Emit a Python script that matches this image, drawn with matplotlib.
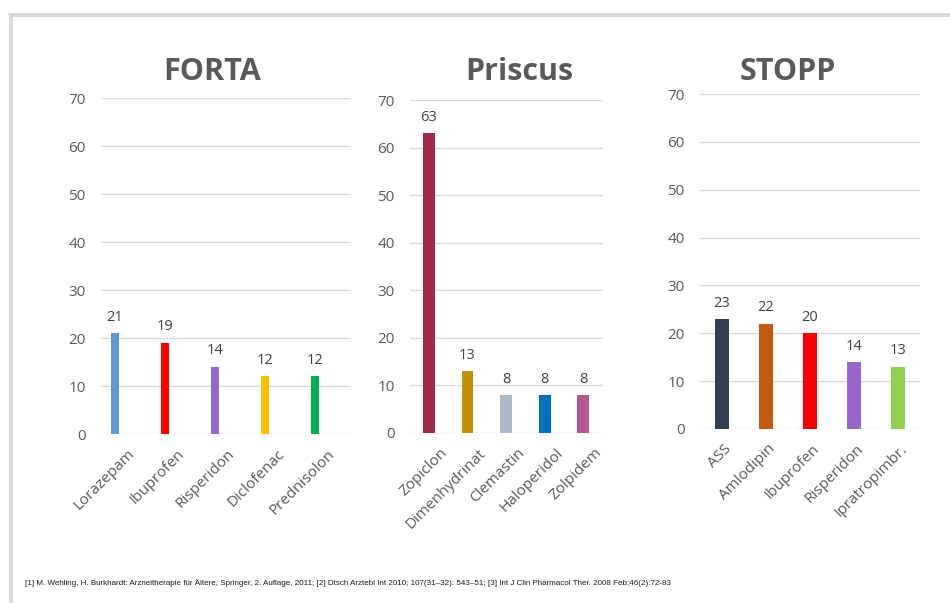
import matplotlib
matplotlib.use("Agg")
import matplotlib.pyplot as plt
import matplotlib.transforms as mtransforms
from matplotlib.patches import Rectangle
from matplotlib.lines import Line2D

plt.rcParams['font.family'] = ['Open Sans', 'DejaVu Sans']

# FORTA
forta_drugs = ['Lorazepam', 'Ibuprofen', 'Risperidon', 'Diclofenac', 'Prednisolon']
forta_vals = [21, 19, 14, 12, 12]
forta_colors = ['#5B9BD5', '#FF0000', '#9966CC', '#FFC000', '#00B050']

# Priscus
priscus_drugs = ['Zopiclon', 'Dimenhydrinat', 'Clemastin', 'Haloperidol', 'Zolpidem']
priscus_vals = [63, 13, 8, 8, 8]
priscus_colors = ['#A0294A', '#BF9000', '#ADB9CA', '#0070C0', '#B5598A']

# STOPP
stopp_drugs = ['ASS', 'Amlodipin', 'Ibuprofen', 'Risperidon', 'Ipratropimbr.']
stopp_vals = [23, 22, 20, 14, 13]
stopp_colors = ['#333F50', '#C55A11', '#FF0000', '#9966CC', '#92D050']

footnote = ('[1] M. Wehling, H. Burkhardt: Arzneitherapie für Ältere, Springer, 2. Auflage, 2011; '
            '[2] Dtsch Arztebl Int 2010; 107(31–32): 543–51; '
            '[3] Int J Clin Pharmacol Ther. 2008 Feb;46(2):72-83')

W, H = 950, 603
fig = plt.figure(figsize=(W / 100, H / 100), dpi=100)


def px(x0, y0, x1, y1):
    # pixel box -> figure fraction [left, bottom, width, height]
    return [x0 / W, 1 - y1 / H, (x1 - x0) / W, (y1 - y0) / H]


panels = [
    # name, drugs, values, colors, axes box, xlim, bar width, title x, label shift
    ('FORTA', forta_drugs, forta_vals, forta_colors, px(101, 98, 351, 434), (-0.28, 4.72), 0.17, 212, 12),
    ('Priscus', priscus_drugs, priscus_vals, priscus_colors, px(410, 100, 603, 433), (-0.49, 4.51), 0.31, 519, 11),
    ('STOPP', stopp_drugs, stopp_vals, stopp_colors, px(700, 94, 920, 429), (-0.5, 4.5), 0.32, 788, 2),
]

for name, drugs, vals, colors, box, xlim, bw, tx, shift in panels:
    ax = fig.add_axes(box)
    x = range(len(drugs))
    bars = ax.bar(x, vals, width=bw, color=colors, zorder=3)
    ax.bar_label(bars, labels=[str(v) for v in vals], padding=6, fontsize=10.5, color='#404040')
    ax.set_xlim(*xlim)
    ax.set_ylim(0, 70)
    ax.set_yticks(range(0, 71, 10))
    ax.set_xticks(list(x))
    ax.set_xticklabels(drugs, rotation=45, ha='right', va='top', rotation_mode='anchor')
    ax.tick_params(axis='both', length=0, labelsize=11, labelcolor='#595959')
    ax.tick_params(axis='y', pad=11)
    ax.tick_params(axis='x', pad=9)
    off = mtransforms.ScaledTranslation(shift / 100, 0, fig.dpi_scale_trans)
    for lbl in ax.get_xticklabels():
        lbl.set_transform(lbl.get_transform() + off)
    ax.grid(axis='y', color='#D9D9D9', linewidth=1, zorder=0)
    for s in ax.spines.values():
        s.set_visible(False)
    fig.text(tx / W, 1 - 80 / H, name, ha='center', va='baseline',
             fontsize=22, fontweight='bold', color='#595959')

# slide frame
fig.add_artist(Line2D([9 / W, 1], [1 - 13.8 / H] * 2, color='#D3D3D3', linewidth=1.2))
fig.add_artist(Line2D([13 / W, 1], [1 - 16.3 / H] * 2, color='#D3D3D3', linewidth=1.2))
fig.add_artist(Rectangle((8.5 / W, 0), 4.2 / W, 1 - 14 / H, transform=fig.transFigure,
                         color='#DCDCDC', linewidth=0))

fig.text(25 / W, 1 - 583 / H, footnote, ha='left', va='center', fontsize=5.75,
         family=['Liberation Sans Narrow', 'Liberation Sans', 'DejaVu Sans'], color='#1A1A1A')

fig.savefig('out.png', dpi=100)
